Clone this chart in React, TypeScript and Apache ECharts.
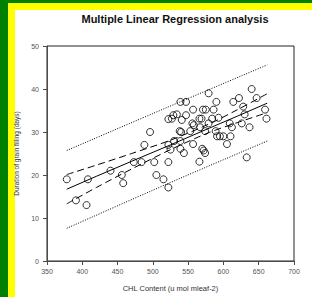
import React, { useEffect, useRef } from "react";
import * as echarts from "echarts";

const chlContent = [378, 408, 391, 406, 440, 456, 458, 473, 484, 488, 502, 496, 505, 515, 522, 522, 522, 522, 525,
  640, 579, 622, 647, 539, 547, 590, 614, 628, 557, 571, 575, 586, 659, 534, 529, 547, 630, 527, 541, 566, 569, 584,
  593, 661, 556, 558, 579, 609, 626, 637, 567, 612, 538, 540, 553, 574, 589, 591, 595, 600, 610, 530, 539, 557, 605,
  539, 570, 572, 544, 574, 566, 633];
const grainDays = [19.0, 19.0, 14.1, 13.0, 21.0, 20.0, 18.1, 23.0, 23.0, 27.0, 23.0, 30.0, 20.0, 19.0, 17.1, 23.0, 33.0, 27.0, 25.9,
  40.0, 39.0, 37.9, 37.9, 37.0, 37.0, 37.0, 37.0, 35.9, 35.2, 35.2, 35.2, 35.2, 35.2, 34.1, 33.9, 33.9, 34.1, 33.1, 32.8, 33.1, 33.1, 33.1,
  33.3, 33.1, 32.0, 31.6, 32.0, 32.0, 32.0, 31.1, 31.1, 31.1, 30.2, 30.0, 30.2, 30.2, 30.2, 29.0, 29.0, 29.0, 29.0, 27.9, 27.9, 27.2, 27.2,
  26.1, 26.1, 25.7, 25.1, 25.1, 23.1, 24.1];

const bandX = [378, 420, 470, 525, 580, 620, 662];
const fitY = [16.7, 19.7, 23.2, 27.0, 30.9, 33.7, 36.7];
const ciUpper = [20.1, 22.3, 25.0, 28.1, 31.9, 35.2, 38.9];
const ciLower = [13.3, 17.1, 21.4, 25.9, 29.9, 32.2, 34.5];
const piX = [378, 520, 662];
const piUpper = [25.7, 35.7, 45.6];
const piLower = [7.6, 17.9, 27.9];

const xTicks = [350, 400, 450, 500, 550, 600, 650, 700];
const yTicks = [0, 10, 20, 30, 40, 50];

const zip = (xs: number[], ys: number[]) => xs.map((x, i) => [x, ys[i]]);

export default function App() {
  const ref = useRef<HTMLDivElement>(null);
  useEffect(() => {
    if (!ref.current) return;
    const chart = echarts.init(ref.current, undefined, { renderer: "svg" });
    const font = "Arial, 'Liberation Sans', sans-serif";
    const lineBase = { type: "line", symbol: "none", silent: true, z: 3 } as any;
    chart.setOption({
      animation: false,
      backgroundColor: "transparent",
      textStyle: { fontFamily: font, color: "#444444" },
      title: {
        text: "Multiple Linear Regression analysis",
        left: 170,
        textAlign: "center",
        top: 8,
        textStyle: { fontFamily: font, fontSize: 11, fontWeight: "bold", color: "#111111" },
      },
      grid: { left: 47, top: 46, right: 18, bottom: 26, show: true, borderColor: "#222222", borderWidth: 1, containLabel: false },
      xAxis: {
        type: "value",
        min: xTicks[0],
        max: xTicks[xTicks.length - 1],
        interval: 50,
        name: "CHL Content (u mol mleaf-2)",
        nameLocation: "middle",
        nameGap: 23,
        nameTextStyle: { fontFamily: font, fontSize: 7.5, color: "#333333" },
        axisLine: { show: true, onZero: false, lineStyle: { color: "#4a4a4a", width: 1 } },
        axisTick: { show: true, inside: false, length: 4, lineStyle: { color: "#4a4a4a" } },
        axisLabel: { margin: 7, fontFamily: font, fontSize: 7, color: "#555555" },
        splitLine: { show: false },
      },
      yAxis: {
        type: "value",
        min: yTicks[0],
        max: yTicks[yTicks.length - 1],
        interval: 10,
        name: "Duration of grain filling (days)",
        nameLocation: "middle",
        nameGap: 22,
        nameRotate: 90,
        nameTextStyle: { fontFamily: font, fontSize: 6.5, color: "#333333" },
        axisLine: { show: true, onZero: false, lineStyle: { color: "#4a4a4a", width: 1 } },
        axisTick: { show: true, inside: false, length: 4, lineStyle: { color: "#4a4a4a" } },
        axisLabel: { margin: 8, fontFamily: font, fontSize: 7, color: "#555555" },
        splitLine: { show: false },
      },
      series: [
        {
          type: "scatter",
          data: zip(chlContent, grainDays),
          symbol: "circle",
          symbolSize: 7,
          itemStyle: { color: "rgba(0,0,0,0)", borderColor: "#000000", borderWidth: 1 },
          z: 4,
        },
        { ...lineBase, data: zip(bandX, fitY), lineStyle: { color: "#000000", width: 1 } },
        { ...lineBase, data: zip(bandX, ciUpper), smooth: 0.3, lineStyle: { color: "#000000", width: 1, type: [7, 4] } },
        { ...lineBase, data: zip(bandX, ciLower), smooth: 0.3, lineStyle: { color: "#000000", width: 1, type: [7, 4] } },
        { ...lineBase, data: zip(piX, piUpper), smooth: 0.3, lineStyle: { color: "#000000", width: 1, type: [1, 1.5] } },
        { ...lineBase, data: zip(piX, piLower), smooth: 0.3, lineStyle: { color: "#000000", width: 1, type: [1, 1.5] } },
      ],
    });
    return () => chart.dispose();
  }, []);
  return (
    <div style={{ position: "fixed", left: 0, top: 0, width: 312, height: 297, background: "#008000", overflow: "hidden" }}>
      <div style={{ position: "absolute", left: 8, top: 3, width: 304, height: 294, background: "#ffff00" }} />
      <div style={{ position: "absolute", left: 15, top: 10, width: 297, height: 287, background: "#ffffff" }} />
      <div ref={ref} style={{ position: "absolute", left: 0, top: 0, width: 312, height: 297 }} />
    </div>
  );
}
